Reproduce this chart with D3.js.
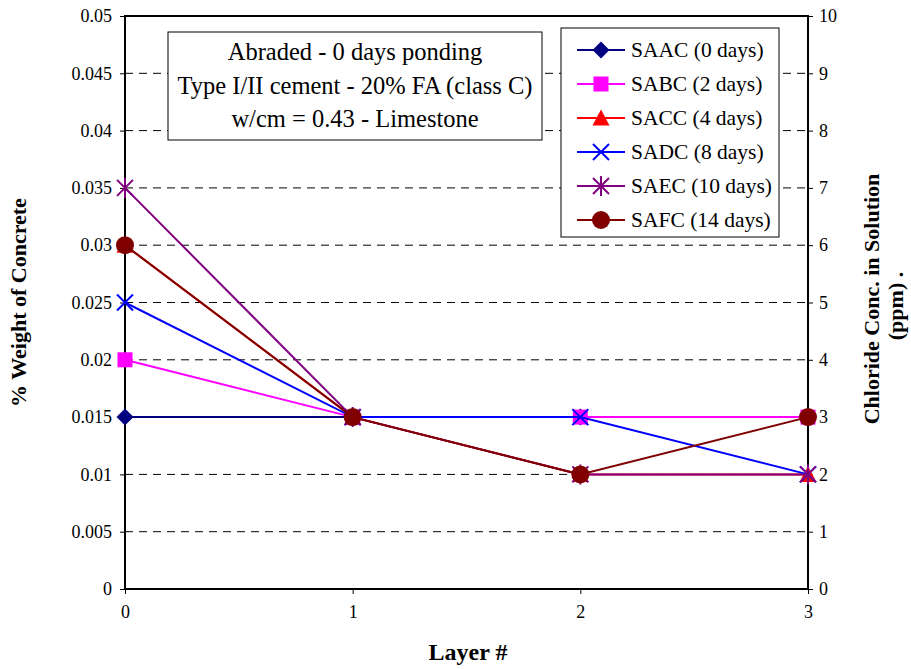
<!DOCTYPE html>
<html><head><meta charset="utf-8">
<script src="https://cdn.jsdelivr.net/npm/d3@7"></script>
<style>body{margin:0;background:#fff}svg{display:block}text{font-family:"Liberation Serif","Times New Roman",serif}</style>
</head><body><svg id="c" width="911" height="669"></svg>
<script>
const layers = [0, 1, 2, 3];
const leftTicks = [0, 0.005, 0.01, 0.015, 0.02, 0.025, 0.03, 0.035, 0.04, 0.045, 0.05];
const rightTicks = [0, 1, 2, 3, 4, 5, 6, 7, 8, 9, 10];
const seriesNames = ["SAAC (0 days)", "SABC (2 days)", "SACC (4 days)", "SADC (8 days)", "SAEC (10 days)", "SAFC (14 days)"];
const saac = [0.015, 0.015, 0.015, 0.015];
const sabc = [0.02, 0.015, 0.015, 0.015];
const sacc = [0.03, 0.015, 0.01, 0.01];
const sadc = [0.025, 0.015, 0.015, 0.01];
const saec = [0.035, 0.015, 0.01, 0.01];
const safc = [0.03, 0.015, 0.01, 0.015];
const colors = ["#000080", "#FF00FF", "#FF0000", "#0000FF", "#800080", "#800000"];
const markers = ["diamond", "square", "triangle", "x", "star", "circle"];
const noteLines = ["Abraded - 0 days ponding", "Type I/II cement - 20% FA (class C)", "w/cm = 0.43 - Limestone"];

const FONT = '"Liberation Serif", "Times New Roman", serif';
const allSeries = [saac, sabc, sacc, sadc, saec, safc];
const svg = d3.select("#c");
const L = 125, R = 808, T = 16, B = 589;
const x = d3.scaleLinear().domain([0, 3]).range([L, R]);
const y = d3.scaleLinear().domain([0, 0.05]).range([B, T]);
const y2 = d3.scaleLinear().domain([0, 10]).range([B, T]);

// gridlines
svg.append("g").selectAll("line").data(leftTicks.filter(d => d > 0 && d < 0.05)).join("line")
  .attr("x1", L).attr("x2", R).attr("y1", d => y(d)).attr("y2", d => y(d))
  .attr("stroke", "#000").attr("stroke-width", 1).attr("stroke-dasharray", "8,6");

// frame
svg.append("rect").attr("x", L).attr("y", T).attr("width", R - L).attr("height", B - T)
  .attr("fill", "none").attr("stroke", "#000").attr("stroke-width", 2);

function styleAxis(g) {
  g.attr("font-family", FONT);
  g.select(".domain").remove();
  g.selectAll(".tick line").attr("stroke", "#000").attr("stroke-width", 1);
  g.selectAll(".tick text").attr("font-size", 18).attr("fill", "#000").attr("font-family", FONT);
}
svg.append("g").attr("transform", `translate(${L},0)`)
  .call(d3.axisLeft(y).tickValues(leftTicks).tickFormat(d => String(+d.toFixed(3))).tickSize(5).tickPadding(8))
  .call(styleAxis);
svg.append("g").attr("transform", `translate(${R},0)`)
  .call(d3.axisRight(y2).tickValues(rightTicks).tickFormat(d3.format("d")).tickSize(5).tickPadding(6))
  .call(styleAxis);
svg.append("g").attr("transform", `translate(0,${B})`)
  .call(d3.axisBottom(x).tickValues(layers).tickFormat(d3.format("d")).tickSize(5).tickPadding(11))
  .call(styleAxis);

// axis titles
svg.append("text").attr("transform", `translate(26,${(T + B) / 2}) rotate(-90)`).attr("text-anchor", "middle")
  .attr("font-family", FONT).attr("font-size", 22).attr("font-weight", "bold").text("% Weight of Concrete");
svg.append("text").attr("transform", `translate(879,299) rotate(-90)`).attr("text-anchor", "middle")
  .attr("font-family", FONT).attr("font-size", 22).attr("font-weight", "bold").text("Chloride Conc. in Solution");
svg.append("text").attr("transform", `translate(903,306) rotate(-90)`).attr("text-anchor", "middle")
  .attr("font-family", FONT).attr("font-size", 22).attr("font-weight", "bold").text("(ppm) .");
svg.append("text").attr("x", 468).attr("y", 660).attr("text-anchor", "middle")
  .attr("font-family", FONT).attr("font-size", 24).attr("font-weight", "bold").text("Layer #");

// marker drawing
function drawMarker(g, type, color, cx, cy) {
  if (type === "diamond") {
    g.append("path").attr("d", `M${cx},${cy - 8.5}L${cx + 8.5},${cy}L${cx},${cy + 8.5}L${cx - 8.5},${cy}Z`).attr("fill", color);
  } else if (type === "square") {
    g.append("rect").attr("x", cx - 7.5).attr("y", cy - 7.5).attr("width", 15).attr("height", 15).attr("fill", color);
  } else if (type === "triangle") {
    g.append("path").attr("d", `M${cx},${cy - 8.5}L${cx + 8.5},${cy + 7.5}L${cx - 8.5},${cy + 7.5}Z`).attr("fill", color);
  } else if (type === "x") {
    g.append("path").attr("d", `M${cx - 8},${cy - 8}L${cx + 8},${cy + 8}M${cx - 8},${cy + 8}L${cx + 8},${cy - 8}`)
      .attr("stroke", color).attr("stroke-width", 2);
  } else if (type === "star") {
    g.append("path").attr("d", `M${cx - 8},${cy - 8}L${cx + 8},${cy + 8}M${cx - 8},${cy + 8}L${cx + 8},${cy - 8}M${cx},${cy - 10}L${cx},${cy + 10}`)
      .attr("stroke", color).attr("stroke-width", 2);
  } else if (type === "circle") {
    g.append("circle").attr("cx", cx).attr("cy", cy).attr("r", 9).attr("fill", color);
  }
}

const line = d3.line().x((d, i) => x(layers[i])).y(d => y(d));
allSeries.forEach((s, k) => {
  const g = svg.append("g");
  g.append("path").attr("d", line(s)).attr("fill", "none").attr("stroke", colors[k]).attr("stroke-width", 2);
  s.forEach((v, i) => drawMarker(g, markers[k], colors[k], x(layers[i]), y(v)));
});

// annotation box
const ng = svg.append("g");
ng.append("rect").attr("x", 168).attr("y", 32).attr("width", 374).attr("height", 108)
  .attr("fill", "#fff").attr("stroke", "#000").attr("stroke-width", 1);
noteLines.forEach((t, i) => ng.append("text").attr("x", 355).attr("y", 60 + i * 33.5)
  .attr("text-anchor", "middle").attr("font-family", FONT).attr("font-size", 24.5).text(t));

// legend
const lg = svg.append("g");
lg.append("rect").attr("x", 561).attr("y", 28).attr("width", 218).attr("height", 209)
  .attr("fill", "#fff").attr("stroke", "#000").attr("stroke-width", 1);
seriesNames.forEach((n, k) => {
  const cy = 50 + k * 34;
  lg.append("line").attr("x1", 577).attr("x2", 625).attr("y1", cy).attr("y2", cy)
    .attr("stroke", colors[k]).attr("stroke-width", 2);
  drawMarker(lg, markers[k], colors[k], 601, cy);
  lg.append("text").attr("x", 631).attr("y", cy + 7).attr("font-family", FONT).attr("font-size", 21.5).text(n);
});
</script></body></html>
